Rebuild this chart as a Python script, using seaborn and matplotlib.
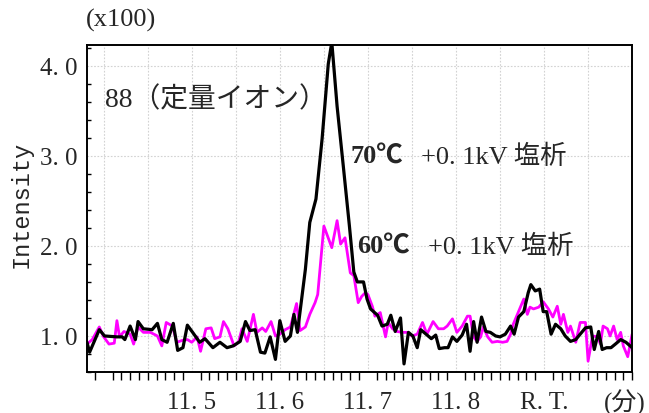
import matplotlib
matplotlib.use("Agg")
import matplotlib.pyplot as plt
from matplotlib.ticker import MultipleLocator
import pandas as pd
import seaborn as sns

"""
SIM chromatogram, m/z 88 (quantitation ion): 70 C vs 60 C salting-out
"""

# retention time (min) and intensity (x100)
RT_70 = [11.381, 11.384, 11.395, 11.401, 11.415, 11.421, 11.424, 11.430, 11.436, 11.439,
         11.445, 11.455, 11.461, 11.466, 11.472, 11.479, 11.484, 11.490, 11.495, 11.501,
         11.509, 11.515, 11.524, 11.532, 11.540, 11.547, 11.555, 11.561, 11.566, 11.572,
         11.578, 11.583, 11.589, 11.595, 11.600, 11.606, 11.612, 11.616, 11.620, 11.629,
         11.634, 11.641, 11.648, 11.655, 11.659, 11.665, 11.672, 11.679, 11.684, 11.688,
         11.695, 11.699, 11.703, 11.711, 11.716, 11.722, 11.726, 11.731, 11.737, 11.741,
         11.746, 11.751, 11.756, 11.760, 11.766, 11.772, 11.777, 11.781, 11.787, 11.791,
         11.796, 11.801, 11.807, 11.812, 11.816, 11.820, 11.824, 11.829, 11.834, 11.839,
         11.845, 11.850, 11.856, 11.862, 11.866, 11.871, 11.877, 11.882, 11.885, 11.890,
         11.895, 11.899, 11.903, 11.908, 11.913, 11.919, 11.924, 11.930, 11.936, 11.941,
         11.947, 11.953, 11.957, 11.962, 11.966, 11.971, 11.976, 11.981, 11.987, 11.993,
         12.000]
INT_70 = [0.93, 0.82, 1.07, 1.00, 0.99, 0.99, 0.96, 1.11, 0.96, 1.16,
          1.08, 1.07, 1.14, 0.96, 0.93, 1.14, 0.84, 0.87, 1.12, 1.04,
          0.93, 0.97, 0.87, 0.93, 0.87, 0.89, 0.94, 1.16, 1.06, 1.07,
          0.82, 0.81, 0.99, 0.74, 1.17, 0.94, 1.00, 1.24, 1.04, 1.74,
          2.26, 2.52, 3.19, 4.02, 4.26, 3.55, 2.89, 2.22, 1.71, 1.60,
          1.60, 1.41, 1.30, 1.23, 1.11, 1.13, 1.23, 1.05, 1.20, 0.69,
          1.04, 1.00, 0.87, 1.07, 1.02, 0.97, 1.01, 0.86, 0.87, 0.87,
          0.99, 0.94, 1.01, 1.13, 0.83, 1.16, 0.93, 1.21, 1.05, 1.04,
          1.00, 0.99, 1.02, 1.11, 1.02, 1.21, 1.27, 1.48, 1.57, 1.50,
          1.52, 1.27, 1.27, 1.02, 1.13, 1.08, 1.00, 0.94, 0.96, 1.02,
          1.09, 1.10, 0.85, 1.05, 0.85, 0.87, 0.87, 0.91, 0.96, 0.93,
          0.87]

RT_60 = [11.381, 11.387, 11.395, 11.400, 11.406, 11.412, 11.415, 11.418, 11.423, 11.430,
         11.434, 11.439, 11.445, 11.453, 11.461, 11.466, 11.471, 11.478, 11.483, 11.489,
         11.495, 11.500, 11.506, 11.510, 11.516, 11.522, 11.526, 11.532, 11.536, 11.541,
         11.548, 11.553, 11.557, 11.563, 11.570, 11.574, 11.580, 11.584, 11.590, 11.595,
         11.600, 11.606, 11.612, 11.619, 11.623, 11.629, 11.634, 11.640, 11.643, 11.650,
         11.659, 11.665, 11.669, 11.674, 11.680, 11.684, 11.689, 11.693, 11.697, 11.700,
         11.705, 11.708, 11.714, 11.720, 11.723, 11.728, 11.733, 11.739, 11.745, 11.750,
         11.756, 11.762, 11.767, 11.774, 11.780, 11.786, 11.790, 11.796, 11.801, 11.807,
         11.813, 11.816, 11.820, 11.824, 11.828, 11.831, 11.836, 11.841, 11.847, 11.853,
         11.858, 11.862, 11.865, 11.871, 11.877, 11.881, 11.884, 11.888, 11.894, 11.899,
         11.905, 11.910, 11.915, 11.919, 11.922, 11.927, 11.930, 11.936, 11.941, 11.947,
         11.950, 11.955, 11.961, 11.964, 11.967, 11.972, 11.975, 11.979, 11.983, 11.987,
         11.990, 11.995, 12.000]
INT_60 = [0.91, 0.96, 1.10, 0.99, 0.91, 0.92, 1.17, 0.99, 1.05, 1.02,
          0.91, 1.10, 1.04, 1.04, 1.00, 0.89, 1.15, 1.11, 0.93, 0.95,
          0.96, 0.93, 0.99, 0.83, 1.08, 1.09, 0.97, 0.99, 1.16, 1.08,
          0.89, 0.93, 1.08, 0.94, 1.24, 1.04, 1.09, 1.05, 1.16, 1.00,
          1.02, 1.07, 1.10, 1.36, 1.06, 1.10, 1.24, 1.37, 1.46, 2.22,
          1.98, 2.28, 2.02, 2.09, 1.70, 1.67, 1.37, 1.44, 1.48, 1.46,
          1.33, 1.22, 1.26, 0.99, 1.15, 1.08, 1.05, 1.04, 1.04, 1.00,
          1.02, 1.15, 1.02, 1.16, 1.08, 1.08, 1.11, 1.19, 1.04, 1.11,
          1.22, 1.22, 0.99, 0.94, 0.99, 1.10, 0.99, 0.93, 0.94, 0.93,
          0.94, 1.02, 1.13, 1.27, 1.41, 1.24, 1.32, 1.30, 1.32, 1.38,
          1.30, 1.21, 1.33, 1.13, 1.24, 1.04, 1.11, 0.93, 1.15, 1.15,
          0.72, 1.00, 0.99, 0.91, 1.11, 1.08, 1.00, 1.11, 0.96, 1.04,
          0.89, 0.77, 1.02]

X_TICKS = [11.4, 11.5, 11.6, 11.7, 11.8, 11.9]
X_TICKLABELS = ["", "11. 5", "11. 6", "11. 7", "11. 8", "R. T."]
Y_TICKS = [1.0, 2.0, 3.0, 4.0]
Y_TICKLABELS = ["1. 0", "2. 0", "3. 0", "4. 0"]
X_GRID = [11.40, 11.45, 11.50, 11.55, 11.60, 11.65, 11.70, 11.75, 11.80, 11.85, 11.90, 11.95]


def main():
    sns.set_style("white")
    plt.rcParams["font.family"] = ["Liberation Serif", "Noto Sans CJK JP", "DejaVu Sans"]

    df_70 = pd.DataFrame({"rt": RT_70, "intensity": INT_70})
    df_60 = pd.DataFrame({"rt": RT_60, "intensity": INT_60})

    fig = plt.figure(figsize=(6.49, 4.14), dpi=100)
    ax = fig.add_axes([0.134, 0.099, 0.840, 0.790])

    # light dotted grid
    for gx in X_GRID:
        ax.axvline(gx, color="#d2d2d2", lw=0.8, ls=(0, (1.5, 1.5)), zorder=0)
    for gy in Y_TICKS:
        ax.axhline(gy, color="#d2d2d2", lw=0.8, ls=(0, (1.5, 1.5)), zorder=0)

    sns.lineplot(data=df_60, x="rt", y="intensity", color="#ff00ff", lw=2.0,
                 estimator=None, sort=False, ax=ax)
    sns.lineplot(data=df_70, x="rt", y="intensity", color="black", lw=2.3,
                 estimator=None, sort=False, ax=ax)

    ax.set_xlim(11.381, 12.0)
    ax.set_ylim(0.6, 4.23)

    ax.set_xticks(X_TICKS)
    ax.set_xticklabels(X_TICKLABELS)
    ax.xaxis.set_minor_locator(MultipleLocator(0.01))
    ax.set_yticks(Y_TICKS)
    ax.set_yticklabels(Y_TICKLABELS)
    ax.yaxis.set_minor_locator(MultipleLocator(0.2))

    ax.tick_params(axis="x", which="major", direction="out", length=11, width=1.2,
                   labelsize=18, pad=3, color="black")
    ax.tick_params(axis="x", which="minor", direction="out", length=6, width=1.0,
                   color="black", bottom=True)
    ax.tick_params(axis="y", which="major", direction="out", length=4, width=1.2,
                   labelsize=18, pad=3, color="black")
    ax.tick_params(axis="y", which="minor", direction="in", length=3, width=1.0,
                   color="black", left=True)

    for spine in ax.spines.values():
        spine.set_color("black")
        spine.set_linewidth(1.4)

    ax.set_xlabel("")
    ax.set_ylabel("")
    fig.text(0.033, 0.505, "Intensity", fontsize=17, rotation=90, ha="center", va="center",
             family=["Liberation Mono", "DejaVu Sans Mono"])

    fig.text(0.187, 0.950, "(x100)", fontsize=19, ha="center", va="center")
    fig.text(0.963, 0.028, "(分)", fontsize=18, ha="center", va="center",
             family=["Liberation Serif", "Noto Sans CJK JP"])

    ax.text(11.401, 3.63, "88（定量イオン）", fontsize=20, ha="left", va="center")
    ax.text(11.680, 3.0, "70℃", fontsize=19, fontweight="bold", ha="left", va="center")
    ax.text(11.760, 3.0, "+0. 1kV 塩析", fontsize=19, ha="left", va="center")
    ax.text(11.688, 2.0, "60℃", fontsize=19, fontweight="bold", ha="left", va="center")
    ax.text(11.768, 2.0, "+0. 1kV 塩析", fontsize=19, ha="left", va="center")

    fig.savefig("out.png", dpi=100)


if __name__ == "__main__":
    main()
